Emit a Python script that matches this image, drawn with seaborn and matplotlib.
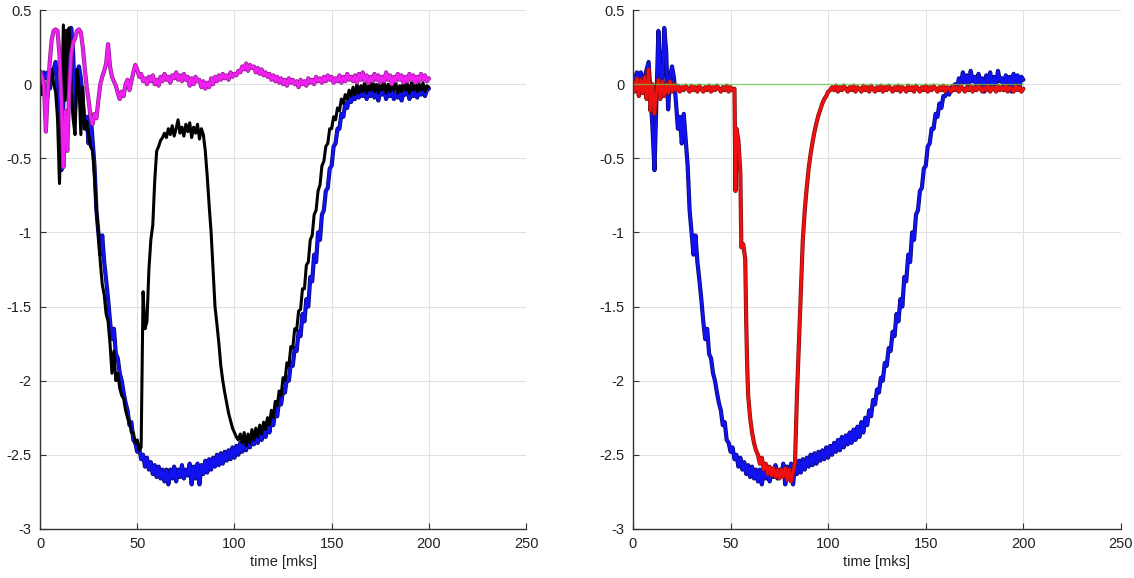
import matplotlib
matplotlib.use("Agg")
import matplotlib.pyplot as plt
import matplotlib.patheffects as pe
import seaborn as sns

# time axis (mks), 1 mks step
time_mks = list(range(201))

# blue signal, shared part t = 0..159
blue_main = [
    0.06, 0.02, 0.08, 0.04, 0.08, -0.03, 0.05, 0.10, 0.15, -0.07,
    -0.30, -0.58, -0.10, 0.36, 0.05, -0.05, 0.38, 0.22, -0.17, 0.05,
    0.12, 0.04, -0.12, -0.30, -0.22, -0.40, -0.20, -0.38, -0.55, -0.85,
    -1.00, -1.15, -1.02, -1.20, -1.32, -1.45, -1.60, -1.72, -1.65, -1.82,
    -1.85, -1.95, -2.00, -2.08, -2.15, -2.20, -2.30, -2.28, -2.40, -2.42,
    -2.48, -2.45, -2.53, -2.50, -2.58, -2.52, -2.60, -2.55, -2.63, -2.57,
    -2.65, -2.58, -2.66, -2.60, -2.68, -2.60, -2.70, -2.60, -2.66, -2.58,
    -2.68, -2.60, -2.65, -2.57, -2.66, -2.60, -2.64, -2.56, -2.70, -2.58,
    -2.66, -2.56, -2.70, -2.57, -2.63, -2.54, -2.62, -2.53, -2.60, -2.52,
    -2.58, -2.50, -2.57, -2.49, -2.56, -2.48, -2.54, -2.47, -2.53, -2.45,
    -2.52, -2.44, -2.50, -2.42, -2.48, -2.40, -2.47, -2.38, -2.45, -2.37,
    -2.43, -2.35, -2.42, -2.33, -2.40, -2.31, -2.38, -2.28, -2.35, -2.25,
    -2.30, -2.20, -2.24, -2.13, -2.16, -2.06, -2.08, -1.98, -2.00, -1.88,
    -1.90, -1.78, -1.80, -1.67, -1.70, -1.55, -1.60, -1.45, -1.50, -1.30,
    -1.33, -1.15, -1.20, -1.00, -1.05, -0.88, -0.85, -0.72, -0.70, -0.57,
    -0.55, -0.42, -0.40, -0.30, -0.30, -0.20, -0.22, -0.13, -0.16, -0.08,
]
# blue tails t = 160..200
blue_tail_left = [
    -0.12, -0.08, -0.10, -0.06, -0.09, -0.04, -0.08, -0.03, -0.10, -0.05,
    -0.08, -0.02, -0.09, -0.05, -0.11, -0.04, -0.07, -0.03, -0.10, -0.05,
    -0.08, -0.03, -0.10, -0.06, -0.09, -0.04, -0.11, -0.05, -0.07, -0.03,
    -0.10, -0.05, -0.08, -0.02, -0.09, -0.04, -0.07, -0.03, -0.08, -0.04,
    -0.03,
]
blue_tail_right = [
    -0.08, -0.05, -0.07, -0.02, -0.04, 0.00, -0.02, 0.04, 0.00, 0.08,
    0.01, 0.06, -0.02, 0.09, 0.02, 0.05, -0.03, 0.07, 0.00, 0.04,
    -0.05, 0.06, 0.01, 0.08, -0.02, 0.05, 0.00, 0.09, 0.02, 0.04,
    -0.04, 0.06, 0.00, 0.05, -0.05, 0.07, 0.01, 0.06, -0.02, 0.05,
    0.03,
]

black_left = [
    0.00, -0.07, 0.02, -0.05, -0.09, 0.05, 0.10, 0.00, -0.05, -0.23,
    -0.67, -0.23, 0.40, -0.11, 0.36, 0.38, -0.05, -0.23, -0.34, 0.10,
    0.00, -0.34, -0.02, -0.30, -0.25, -0.34, -0.42, -0.45, -0.62, -0.85,
    -1.00, -1.20, -1.35, -1.42, -1.55, -1.60, -1.75, -1.95, -1.80, -2.00,
    -1.95, -2.05, -2.10, -2.12, -2.20, -2.25, -2.28, -2.35, -2.35, -2.42,
    -2.40, -2.47, -2.45, -1.40, -1.65, -1.60, -1.25, -1.05, -0.95, -0.65,
    -0.45, -0.42, -0.38, -0.36, -0.33, -0.36, -0.30, -0.34, -0.28, -0.35,
    -0.30, -0.24, -0.33, -0.29, -0.35, -0.27, -0.32, -0.26, -0.36, -0.29,
    -0.33, -0.27, -0.37, -0.30, -0.34, -0.45, -0.62, -0.82, -1.00, -1.25,
    -1.50, -1.62, -1.75, -1.90, -2.00, -2.08, -2.15, -2.22, -2.27, -2.32,
    -2.35, -2.38, -2.40, -2.36, -2.42, -2.35, -2.44, -2.36, -2.42, -2.33,
    -2.40, -2.32, -2.38, -2.30, -2.36, -2.28, -2.33, -2.25, -2.30, -2.20,
    -2.25, -2.14, -2.17, -2.07, -2.10, -1.98, -2.00, -1.88, -1.90, -1.77,
    -1.78, -1.65, -1.66, -1.53, -1.52, -1.38, -1.38, -1.22, -1.20, -1.05,
    -1.02, -0.88, -0.85, -0.72, -0.68, -0.55, -0.52, -0.42, -0.40, -0.30,
    -0.30, -0.22, -0.24, -0.16, -0.18, -0.10, -0.13, -0.07, -0.10, -0.04,
    -0.08, -0.02, -0.07, 0.00, -0.06, -0.01, -0.05, 0.02, -0.06, -0.01,
    -0.04, 0.03, -0.05, 0.00, -0.06, 0.02, -0.04, 0.01, -0.06, 0.00,
    -0.05, 0.02, -0.04, 0.01, -0.06, -0.01, -0.05, 0.02, -0.04, 0.00,
    -0.06, 0.01, -0.04, 0.02, -0.05, 0.00, -0.04, 0.01, -0.05, -0.01,
    -0.02,
]

magenta_left = [
    0.09, 0.05, 0.00, -0.32, -0.05, 0.15, 0.30, 0.36, 0.37, 0.36,
    0.20, -0.11, -0.56, -0.18, -0.45, -0.05, 0.20, 0.28, 0.31, 0.36,
    0.37, 0.35, 0.25, 0.11, -0.02, -0.11, -0.22, -0.27, -0.20, -0.23,
    -0.11, 0.00, 0.05, 0.09, 0.14, 0.27, 0.12, 0.05, 0.02, -0.01,
    -0.06, -0.10, -0.05, -0.08, 0.00, 0.03, -0.04, 0.02, 0.08, 0.13,
    0.10, 0.05, 0.07, 0.02, 0.04, 0.00, 0.05, 0.02, 0.06, 0.00,
    0.03, -0.01, 0.05, 0.02, 0.07, 0.03, 0.05, 0.01, 0.06, 0.04,
    0.08, 0.03, 0.06, 0.02, 0.07, 0.03, 0.05, -0.01, 0.04, 0.00,
    0.05, 0.02, 0.03, -0.02, 0.02, -0.03, 0.01, -0.02, 0.04, 0.00,
    0.05, 0.02, 0.06, 0.03, 0.07, 0.04, 0.06, 0.03, 0.08, 0.05,
    0.07, 0.06, 0.09, 0.08, 0.12, 0.10, 0.14, 0.09, 0.13, 0.11,
    0.12, 0.08, 0.11, 0.07, 0.10, 0.06, 0.08, 0.05, 0.07, 0.03,
    0.06, 0.02, 0.05, 0.01, 0.04, 0.00, 0.03, -0.01, 0.04, 0.01,
    0.03, 0.00, 0.02, -0.02, 0.03, 0.00, 0.02, -0.01, 0.04, 0.01,
    0.03, 0.00, 0.05, 0.02, 0.04, 0.01, 0.05, 0.02, 0.06, 0.03,
    0.05, 0.01, 0.04, 0.02, 0.06, 0.01, 0.05, 0.02, 0.07, 0.03,
    0.05, 0.02, 0.06, 0.01, 0.07, 0.03, 0.08, 0.02, 0.06, 0.01,
    0.05, 0.02, 0.07, 0.03, 0.06, 0.01, 0.05, 0.02, 0.08, 0.03,
    0.06, 0.00, 0.05, 0.02, 0.07, 0.03, 0.06, 0.01, 0.05, 0.02,
    0.07, 0.03, 0.06, 0.01, 0.05, 0.02, 0.07, 0.03, 0.06, 0.02,
    0.04,
]

# red signal (right panel), own time points for the sharp edges
red_time = (
    list(range(0, 53))
    + [52.5, 53, 54, 55, 55.5, 56.5, 57.5, 58, 58.5, 59]
    + list(range(60, 201))
)
red_right = [
    0.02, -0.05, 0.04, -0.08, 0.03, -0.06, 0.05, -0.10, 0.10, -0.18,
    0.00, -0.20, -0.05, 0.03, -0.10, 0.02, -0.08, 0.00, -0.06, 0.02,
    -0.05, 0.00, -0.04, -0.01, -0.05, -0.02, -0.04, -0.01, -0.03, -0.05,
    -0.01, -0.04, -0.02, -0.05, -0.01, -0.03, -0.05, -0.02, -0.04, -0.01,
    -0.05, -0.02, -0.04, -0.01, -0.03, -0.05, -0.02, -0.04, -0.01, -0.05,
    -0.02, -0.04, -0.03,
    -0.72, -0.30, -0.38, -0.60, -1.10, -1.08, -1.18, -1.60, -1.90, -2.10,
    -2.25, -2.35, -2.42, -2.47, -2.50, -2.56, -2.52, -2.60, -2.56, -2.63,
    -2.58, -2.64, -2.59, -2.65, -2.60, -2.66, -2.60, -2.65, -2.59, -2.67,
    -2.60, -2.68, -2.62, -2.55, -2.10, -1.75, -1.40, -1.05, -0.85, -0.70,
    -0.57, -0.47, -0.39, -0.32, -0.26, -0.21, -0.17, -0.13, -0.10, -0.08,
    -0.05, -0.04, -0.02, -0.04, -0.01, -0.05, -0.02, -0.04, -0.01, -0.03,
    -0.05, -0.02, -0.04, -0.01, -0.05, -0.02, -0.03, -0.05, -0.01, -0.04,
    -0.02, -0.05, -0.01, -0.03, -0.05, -0.02, -0.04, -0.01, -0.05, -0.02,
    -0.04, -0.01, -0.03, -0.05, -0.02, -0.04, -0.01, -0.05, -0.02, -0.03,
    -0.05, -0.01, -0.04, -0.02, -0.05, -0.01, -0.03, -0.05, -0.02, -0.04,
    -0.01, -0.05, -0.02, -0.04, -0.01, -0.03, -0.05, -0.02, -0.04, -0.01,
    -0.05, -0.02, -0.03, -0.05, -0.01, -0.04, -0.02, -0.05, -0.01, -0.03,
    -0.05, -0.02, -0.04, -0.01, -0.05, -0.02, -0.04, -0.01, -0.03, -0.05,
    -0.02, -0.04, -0.01, -0.05, -0.02, -0.03, -0.05, -0.01, -0.04, -0.02,
    -0.04, -0.01, -0.05, -0.02, -0.03, -0.05, -0.01, -0.04, -0.02, -0.05,
    -0.03,
]

green_time = [0, 200]
green_right = [0.0, 0.0]

x_ticks = [0, 50, 100, 150, 200, 250]
y_ticks = [-3, -2.5, -2, -1.5, -1, -0.5, 0, 0.5]
y_tick_labels = ["-3", "-2.5", "-2", "-1.5", "-1", "-0.5", "0", "0.5"]

sns.set_theme(style="whitegrid")
plt.rcParams["font.family"] = ["Liberation Sans", "DejaVu Sans"]
plt.rcParams["axes.unicode_minus"] = False

fig = plt.figure(figsize=(11.34, 5.78), dpi=100)
ax_left = fig.add_axes([0.0353, 0.085, 0.4286, 0.8975])
ax_right = fig.add_axes([0.5582, 0.085, 0.4303, 0.8975])

blue_left = blue_main + blue_tail_left
blue_right = blue_main + blue_tail_right


def edge(dark):
    # darker rim like the jpeg-ish matlab trace
    return [pe.Stroke(linewidth=3.0, foreground=dark), pe.Normal()]


sns.lineplot(x=time_mks, y=blue_left, ax=ax_left, color="#1212f0", linewidth=2.0,
             estimator=None, sort=False, path_effects=edge("#0a0a70"))
sns.lineplot(x=time_mks, y=black_left, ax=ax_left, color="#000000", linewidth=2.2,
             estimator=None, sort=False)
sns.lineplot(x=time_mks, y=magenta_left, ax=ax_left, color="#f020f0", linewidth=2.0,
             estimator=None, sort=False, path_effects=edge("#8a208a"))

sns.lineplot(x=time_mks, y=blue_right, ax=ax_right, color="#1212f0", linewidth=2.0,
             estimator=None, sort=False, path_effects=edge("#0a0a70"))
sns.lineplot(x=red_time, y=red_right, ax=ax_right, color="#f01010", linewidth=2.0,
             estimator=None, sort=False, path_effects=edge("#801010"))
sns.lineplot(x=green_time, y=green_right, ax=ax_right, color="#66cc44", linewidth=1.0,
             alpha=0.7, estimator=None, sort=False)

for ax in (ax_left, ax_right):
    ax.set_facecolor("white")
    ax.set_xlim(0, 250)
    ax.set_ylim(-3, 0.5)
    ax.set_xticks(x_ticks)
    ax.set_xticklabels([str(v) for v in x_ticks])
    ax.set_yticks(y_ticks)
    ax.set_yticklabels(y_tick_labels)
    ax.grid(True, color="#e0e0e0", linewidth=0.8)
    for side in ("top", "right"):
        ax.spines[side].set_visible(False)
    for side in ("left", "bottom"):
        ax.spines[side].set_color("#333333")
        ax.spines[side].set_linewidth(1.0)
    ax.tick_params(direction="in", length=4, width=0.8, colors="#333333",
                   labelsize=10.5, labelcolor="#222222", pad=6,
                   bottom=True, left=True)
    ax.set_xlabel("time [mks]", fontsize=10.5, color="#222222", labelpad=3)
    ax.set_ylabel("")

fig.savefig("out.png", dpi=100, facecolor="white")
